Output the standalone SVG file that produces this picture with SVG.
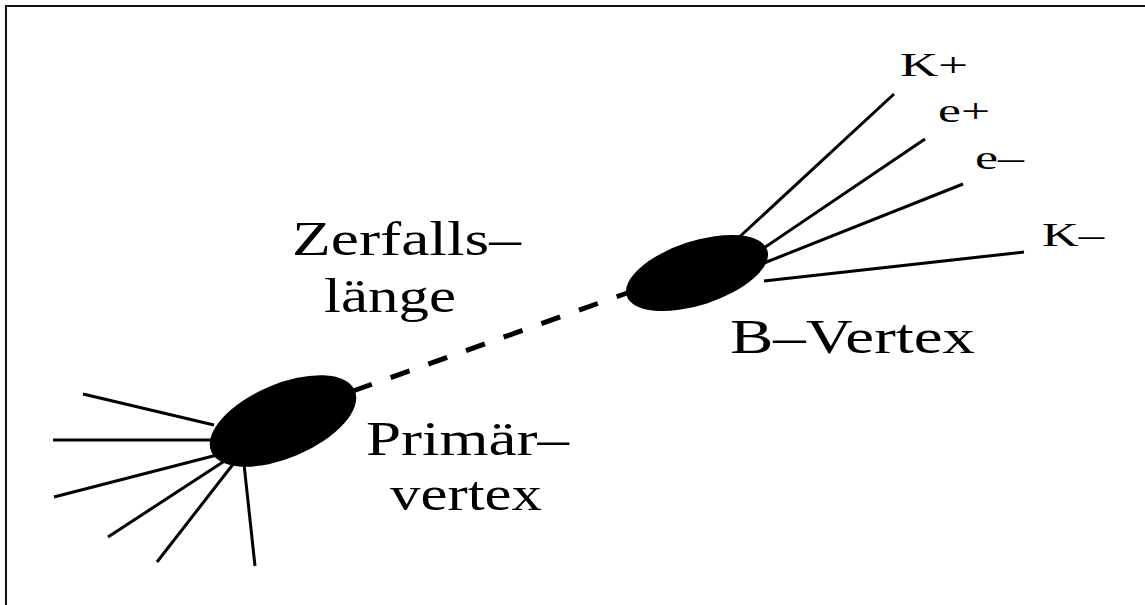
<svg xmlns="http://www.w3.org/2000/svg" width="1145" height="605" viewBox="0 0 1145 605">
<style>
.trk{stroke:#000;stroke-width:3;stroke-linecap:butt;fill:none}
.lbl{font-family:"Liberation Serif","Times New Roman",serif;fill:#000}
.big{font-size:49px}
.sm{font-size:34px}
</style>
<rect x="0" y="0" width="1145" height="605" fill="#fff"/>
<polyline points="6,605 6,6 1145,6" fill="none" stroke="#111" stroke-width="2"/>
<g id="connectors">
  <line x1="353" y1="391" x2="630" y2="292" stroke="#000" stroke-width="5" stroke-dasharray="20 20"/>
  <g id="primary-tracks">
    <line class="trk" x1="83" y1="394" x2="214" y2="425"/>
    <line class="trk" x1="53" y1="440" x2="214" y2="440"/>
    <line class="trk" x1="54" y1="497" x2="217" y2="455"/>
    <line class="trk" x1="108" y1="537" x2="226" y2="460"/>
    <line class="trk" x1="157" y1="562" x2="234" y2="463"/>
    <line class="trk" x1="255" y1="566" x2="244" y2="464"/>
  </g>
  <g id="b-tracks">
    <line class="trk" x1="734" y1="242" x2="894" y2="94"/>
    <line class="trk" x1="758" y1="252" x2="925" y2="139"/>
    <line class="trk" x1="764" y1="263" x2="963" y2="184"/>
    <line class="trk" x1="764" y1="281" x2="1024" y2="252"/>
  </g>
</g>
<g id="primary-vertex">
  <ellipse cx="283" cy="421" rx="78" ry="37" transform="rotate(-23 283 421)" fill="#000"/>
</g>
<g id="b-vertex">
  <ellipse cx="697" cy="273" rx="74" ry="32" transform="rotate(-18 697 273)" fill="#000"/>
</g>
<g id="labels">
  <text class="lbl big" x="292" y="255" textLength="229" lengthAdjust="spacingAndGlyphs">Zerfalls–</text>
  <text class="lbl big" x="324" y="312" textLength="132" lengthAdjust="spacingAndGlyphs">länge</text>
  <text class="lbl big" x="366" y="455" textLength="203" lengthAdjust="spacingAndGlyphs">Primär–</text>
  <text class="lbl big" x="390" y="510" textLength="152" lengthAdjust="spacingAndGlyphs">vertex</text>
  <text class="lbl big" x="730" y="353" textLength="245" lengthAdjust="spacingAndGlyphs">B–Vertex</text>
  <text class="lbl sm" x="900" y="76" textLength="68" lengthAdjust="spacingAndGlyphs">K+</text>
  <text class="lbl sm" x="938" y="122" textLength="52" lengthAdjust="spacingAndGlyphs">e+</text>
  <text class="lbl sm" x="975" y="169" textLength="49" lengthAdjust="spacingAndGlyphs">e–</text>
  <text class="lbl sm" x="1042" y="246" textLength="62" lengthAdjust="spacingAndGlyphs">K–</text>
</g>
</svg>
